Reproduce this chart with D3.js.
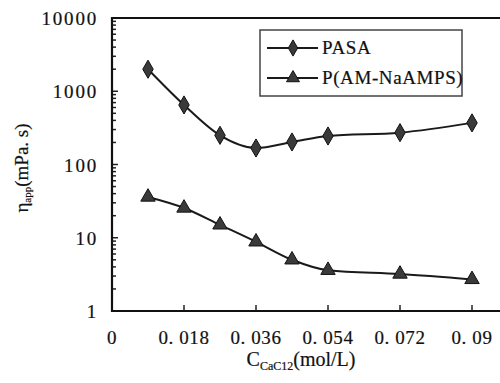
<!DOCTYPE html>
<html>
<head>
<meta charset="utf-8">
<script src="https://cdn.jsdelivr.net/npm/d3@7"></script>
<style>
  body { margin: 0; background: #fff; }
  svg text { fill: #111; stroke: #111; stroke-width: 0.2; }
</style>
</head>
<body>
<div id="chart"></div>
<script>
// data
const conc = [0.009, 0.018, 0.027, 0.036, 0.045, 0.054, 0.072, 0.09];
const pasa = [2000, 650, 250, 168, 203, 245, 272, 370];
const pamps = [36, 25.5, 15, 8.8, 5, 3.6, 3.2, 2.7];
const xTicks = [0, 0.018, 0.036, 0.054, 0.072, 0.09];
const xTickLabels = ["0", "0. 018", "0. 036", "0. 054", "0. 072", "0. 09"];
const yTicks = [1, 10, 100, 1000, 10000];
const seriesNames = ["PASA", "P(AM-NaAMPS)"];

const W = 500, H = 383;
const m = { left: 112, top: 18, bottom: 311 };

const svg = d3.select("#chart").append("svg")
  .attr("width", W).attr("height", H)
  .attr("font-family", "'Liberation Serif', 'DejaVu Serif', serif");

const x = d3.scaleLinear().domain([0, 0.1]).range([m.left, 512]);
const y = d3.scaleLog().domain([1, 10000]).range([m.bottom, m.top]);

// minor ticks on y
const minor = [];
for (let d = 1; d < 10000; d *= 10)
  for (let k = 2; k <= 9; k++) minor.push(d * k);

svg.append("g").selectAll("line").data(minor).enter().append("line")
  .attr("x1", m.left).attr("x2", m.left + 4)
  .attr("y1", d => y(d)).attr("y2", d => y(d))
  .attr("stroke", "#222").attr("stroke-width", 1.5);

svg.append("g").selectAll("line").data(yTicks).enter().append("line")
  .attr("x1", m.left).attr("x2", m.left + 6)
  .attr("y1", d => y(d)).attr("y2", d => y(d))
  .attr("stroke", "#222").attr("stroke-width", 1.5);

svg.append("g").selectAll("line").data(xTicks.slice(1)).enter().append("line")
  .attr("x1", d => x(d)).attr("x2", d => x(d))
  .attr("y1", m.bottom).attr("y2", m.bottom - 6)
  .attr("stroke", "#222").attr("stroke-width", 1.5);

// frame
svg.append("path")
  .attr("d", `M${W},${m.top}H${m.left}V${m.bottom}H${W}`)
  .attr("fill", "none").attr("stroke", "#111").attr("stroke-width", 2.2);

// tick labels
svg.append("g").selectAll("text").data(yTicks).enter().append("text")
  .attr("x", 98).attr("y", d => y(d) + 7)
  .attr("text-anchor", "end").attr("font-size", 19)
  .attr("letter-spacing", 1.8)
  .text(d => d);

svg.append("g").selectAll("text").data(xTicks).enter().append("text")
  .attr("x", d => x(d)).attr("y", 344)
  .attr("text-anchor", "middle").attr("font-size", 19)
  .attr("letter-spacing", 0.6)
  .text((d, i) => xTickLabels[i]);

// axis titles
const xt = svg.append("text").attr("x", 301).attr("y", 366)
  .attr("text-anchor", "middle").attr("font-size", 20);
xt.append("tspan").text("C");
xt.append("tspan").attr("font-size", 12).attr("dy", 4).text("CaC12");
xt.append("tspan").attr("dy", -4).text("(mol/L)");

const yt = svg.append("text")
  .attr("transform", "translate(28,168) rotate(-90)")
  .attr("text-anchor", "middle").attr("font-size", 19);
yt.append("tspan").text("η");
yt.append("tspan").attr("font-size", 11).attr("dy", 3).text("app");
yt.append("tspan").attr("dy", -3).text("(mPa. s)");

// series
const line = d3.line()
  .x((d, i) => x(conc[i]))
  .y(d => y(d))
  .curve(d3.curveMonotoneX);

const series = [pasa, pamps];
const shapes = [d3.symbolDiamond, d3.symbolTriangle];
const sizes = [95, 90];

series.forEach((vals, s) => {
  svg.append("path").datum(vals)
    .attr("d", line)
    .attr("fill", "none").attr("stroke", "#1a1a1a").attr("stroke-width", 2);
  svg.append("g").selectAll("path").data(vals).enter().append("path")
    .attr("d", d3.symbol().type(shapes[s]).size(sizes[s]))
    .attr("transform", (d, i) => `translate(${x(conc[i])},${y(d)})`)
    .attr("fill", "#3a3a3a").attr("stroke", "#111").attr("stroke-width", 1);
});

// legend
const lg = svg.append("g");
lg.append("rect").attr("x", 260).attr("y", 30).attr("width", 202).attr("height", 66)
  .attr("fill", "#fff").attr("stroke", "#444").attr("stroke-width", 1.5);
seriesNames.forEach((name, s) => {
  const ly = 48 + s * 30;
  lg.append("line").attr("x1", 267).attr("x2", 318).attr("y1", ly).attr("y2", ly)
    .attr("stroke", "#1a1a1a").attr("stroke-width", 2);
  lg.append("path").attr("d", d3.symbol().type(shapes[s]).size(sizes[s] * 0.8))
    .attr("transform", `translate(293,${ly})`)
    .attr("fill", "#3a3a3a").attr("stroke", "#111").attr("stroke-width", 1);
  lg.append("text").attr("x", 322).attr("y", ly + 6).attr("font-size", 19)
    .attr("letter-spacing", 0.6).text(name);
});
</script>
</body>
</html>
